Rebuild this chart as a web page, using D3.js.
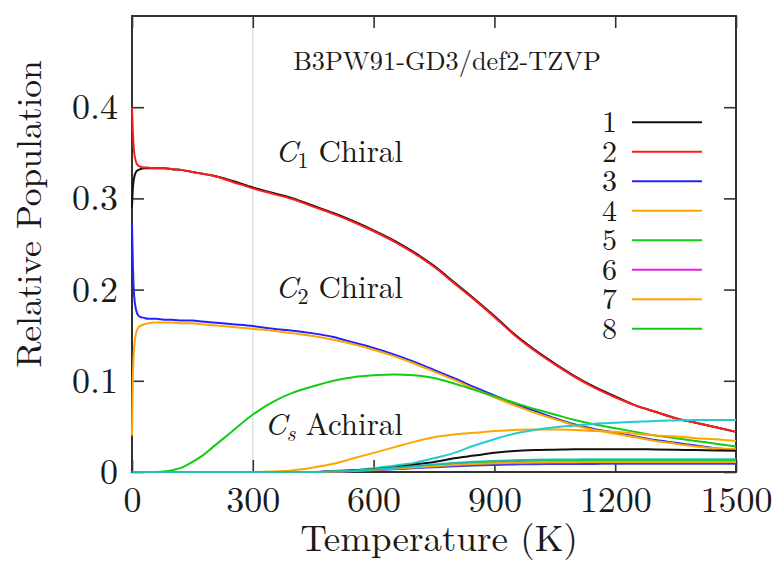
<!DOCTYPE html>
<html><head><meta charset="utf-8">
<script src="https://cdn.jsdelivr.net/npm/d3@7"></script>
<style>
body{margin:0;background:#fff;}
svg{display:block;}
</style>
</head><body>
<svg id="chart" width="775" height="561"></svg>
<script>
// ---------- data ----------
const temps = [0, 2, 5, 10, 15, 20, 30, 40, 50, 60, 80, 100, 125, 150, 175, 200, 250, 300, 350, 400, 450, 500, 550, 600, 650, 700, 750, 800, 850, 900, 950, 1000, 1050, 1100, 1150, 1200, 1250, 1300, 1350, 1400, 1450, 1500];

const pop1 = [0.290, 0.310, 0.322, 0.329, 0.331, 0.332, 0.333, 0.333, 0.333, 0.333, 0.333, 0.332, 0.331, 0.329, 0.327, 0.325, 0.319, 0.312, 0.306, 0.300, 0.292, 0.284, 0.275, 0.265, 0.254, 0.241, 0.226, 0.208, 0.190, 0.171, 0.151, 0.134, 0.119, 0.105, 0.093, 0.083, 0.073, 0.066, 0.059, 0.054, 0.049, 0.044];
const pop2 = [0.400, 0.375, 0.352, 0.340, 0.336, 0.335, 0.334, 0.334, 0.333, 0.333, 0.333, 0.332, 0.331, 0.329, 0.327, 0.325, 0.318, 0.311, 0.305, 0.299, 0.291, 0.283, 0.274, 0.264, 0.253, 0.240, 0.225, 0.207, 0.189, 0.170, 0.150, 0.133, 0.118, 0.104, 0.092, 0.082, 0.073, 0.066, 0.059, 0.054, 0.049, 0.044];
const pop3 = [0.272, 0.230, 0.195, 0.178, 0.172, 0.170, 0.169, 0.168, 0.168, 0.168, 0.167, 0.167, 0.166, 0.166, 0.165, 0.164, 0.162, 0.160, 0.157, 0.155, 0.152, 0.148, 0.142, 0.136, 0.129, 0.121, 0.112, 0.103, 0.093, 0.084, 0.075, 0.067, 0.059, 0.052, 0.047, 0.043, 0.039, 0.035, 0.032, 0.029, 0.026, 0.024];
const pop4 = [0.040, 0.100, 0.135, 0.152, 0.158, 0.160, 0.162, 0.163, 0.164, 0.164, 0.164, 0.164, 0.163, 0.163, 0.162, 0.161, 0.159, 0.157, 0.155, 0.152, 0.149, 0.145, 0.140, 0.134, 0.127, 0.119, 0.110, 0.101, 0.091, 0.082, 0.073, 0.065, 0.058, 0.051, 0.046, 0.042, 0.038, 0.034, 0.031, 0.028, 0.026, 0.025];
const pop5 = [0, 0, 0, 0, 0, 0, 0, 0, 0, 0, 0.0005, 0.002, 0.005, 0.011, 0.018, 0.027, 0.045, 0.063, 0.077, 0.087, 0.094, 0.100, 0.104, 0.106, 0.107, 0.106, 0.103, 0.097, 0.090, 0.083, 0.076, 0.069, 0.063, 0.057, 0.052, 0.048, 0.044, 0.040, 0.037, 0.034, 0.031, 0.028];
const pop6 = [0, 0, 0, 0, 0, 0, 0, 0, 0, 0, 0, 0, 0, 0, 0, 0, 0, 0, 0, 0, 0, 0.0005, 0.0010, 0.0021, 0.0034, 0.0047, 0.0061, 0.0074, 0.0084, 0.0091, 0.0097, 0.0100, 0.0102, 0.0103, 0.0104, 0.0105, 0.0105, 0.0105, 0.0105, 0.0105, 0.0105, 0.0105];
const pop7 = [0, 0, 0, 0, 0, 0, 0, 0, 0, 0, 0, 0, 0, 0, 0, 0, 0, 0, 0.0005, 0.002, 0.005, 0.009, 0.015, 0.021, 0.027, 0.033, 0.038, 0.041, 0.043, 0.045, 0.046, 0.0465, 0.0465, 0.046, 0.045, 0.044, 0.042, 0.040, 0.039, 0.037, 0.036, 0.034];
const pop8 = [0, 0, 0, 0, 0, 0, 0, 0, 0, 0, 0, 0, 0, 0, 0, 0, 0, 0, 0, 0, 0, 0.0006, 0.0013, 0.0026, 0.0042, 0.0059, 0.0075, 0.0091, 0.0104, 0.0113, 0.0120, 0.0124, 0.0126, 0.0128, 0.0129, 0.0130, 0.0130, 0.0130, 0.0130, 0.0130, 0.0130, 0.0130];
const pop9 = [0, 0, 0, 0, 0, 0, 0, 0, 0, 0, 0, 0, 0, 0, 0, 0, 0, 0, 0, 0, 0, 0.001, 0.002, 0.004, 0.007, 0.010, 0.015, 0.021, 0.029, 0.036, 0.042, 0.046, 0.049, 0.051, 0.053, 0.054, 0.055, 0.056, 0.0565, 0.057, 0.057, 0.057];
const pop10 = [0, 0, 0, 0, 0, 0, 0, 0, 0, 0, 0, 0, 0, 0, 0, 0, 0, 0, 0, 0, 0, 0.001, 0.002, 0.003, 0.005, 0.008, 0.011, 0.015, 0.018, 0.021, 0.023, 0.024, 0.0245, 0.025, 0.025, 0.025, 0.025, 0.0248, 0.0245, 0.024, 0.0237, 0.0234];
const pop11 = [0, 0, 0, 0, 0, 0, 0, 0, 0, 0, 0, 0, 0, 0, 0, 0, 0, 0, 0, 0, 0, 0.0004, 0.0009, 0.0018, 0.0029, 0.0041, 0.0052, 0.0063, 0.0072, 0.0078, 0.0083, 0.0086, 0.0087, 0.0088, 0.0089, 0.0090, 0.0090, 0.0090, 0.0090, 0.0090, 0.0090, 0.0090];
const pop12 = [0, 0, 0, 0, 0, 0, 0, 0, 0, 0, 0, 0, 0, 0, 0, 0, 0, 0, 0, 0, 0, 0.0005, 0.0011, 0.0022, 0.0035, 0.0050, 0.0064, 0.0077, 0.0088, 0.0096, 0.0101, 0.0105, 0.0107, 0.0108, 0.0109, 0.0110, 0.0110, 0.0110, 0.0110, 0.0110, 0.0110, 0.0110];
const pop13 = [0, 0, 0, 0, 0, 0, 0, 0, 0, 0, 0, 0, 0, 0, 0, 0, 0, 0, 0, 0, 0, 0.0007, 0.0014, 0.0028, 0.0045, 0.0063, 0.0081, 0.0098, 0.0112, 0.0122, 0.0129, 0.0133, 0.0136, 0.0138, 0.0139, 0.0140, 0.0140, 0.0140, 0.0140, 0.0140, 0.0140, 0.0140];

const seriesValues = [pop1, pop2, pop3, pop4, pop5, pop6, pop7, pop8, pop9, pop10, pop11, pop12, pop13];
const seriesColors = ["#111111", "#ff1c1c", "#2222ff", "#ffa500", "#14cc14", "#e41ee4", "#ffa500", "#14cc14", "#22cccc", "#111111", "#3a3aff", "#ffa500", "#18c0b0"];
const legendLabels = ["1", "2", "3", "4", "5", "6", "7", "8"];
const xTicks = [0, 300, 600, 900, 1200, 1500];
const yTicks = [0, 0.1, 0.2, 0.3, 0.4];
const annotationSubs = ["1", "2", "s"];
const annotationWords = ["Chiral", "Chiral", "Achiral"];
const annotationAnchorT = [673, 673, 673];
const annotationAnchorV = [0.340, 0.191, 0.0405];
const titleText = "B3PW91-GD3/def2-TZVP";
const xTitle = "Temperature (K)";
const yTitle = "Relative Population";

// ---------- layout ----------
const W = 775, H = 561;
const margin = {left: 132, right: 39, top: 16, bottom: 89};
const x = d3.scaleLinear().domain([0, 1500]).range([margin.left, W - margin.right]);
const y = d3.scaleLinear().domain([0, 0.5]).range([H - margin.bottom, margin.top]);

const FONT = "'Latin Modern Roman'";
const TXT = "#1a1a1a";
const svg = d3.select("#chart");
const axisColor = "#333";

// reference line at 300 K
svg.append("line")
  .attr("x1", x(300)).attr("x2", x(300))
  .attr("y1", y(0.5)).attr("y2", y(0))
  .attr("stroke", "#dcdcdc").attr("stroke-width", 1.3);

function styleAxis(g) {
  g.select(".domain").remove();
  g.attr("font-family", FONT).attr("font-size", 36);
  g.selectAll(".tick line").attr("stroke", axisColor).attr("stroke-width", 1.6);
  g.selectAll(".tick text").attr("font-family", FONT).attr("font-size", 36).attr("fill", TXT);
}

svg.append("g").attr("transform", `translate(0,${y(0)})`)
  .call(d3.axisBottom(x).tickValues(xTicks).tickSize(-12).tickPadding(14).tickFormat(d3.format("d")))
  .call(styleAxis);
svg.append("g").attr("transform", `translate(${x(0)},0)`)
  .call(d3.axisLeft(y).tickValues(yTicks).tickSize(-12).tickPadding(14).tickFormat(d => d === 0 ? "0" : d3.format(".1f")(d)))
  .call(styleAxis);
svg.append("g").attr("transform", `translate(0,${y(0.5)})`)
  .call(d3.axisTop(x).tickValues(xTicks).tickSize(-12).tickFormat(""))
  .call(styleAxis);
svg.append("g").attr("transform", `translate(${x(1500)},0)`)
  .call(d3.axisRight(y).tickValues(yTicks).tickSize(-12).tickFormat(""))
  .call(styleAxis);

// frame
svg.append("rect")
  .attr("x", x(0)).attr("y", y(0.5))
  .attr("width", x(1500) - x(0)).attr("height", y(0) - y(0.5))
  .attr("fill", "none").attr("stroke", axisColor).attr("stroke-width", 2);

// clip
svg.append("clipPath").attr("id", "clip").append("rect")
  .attr("x", x(0) - 1).attr("y", y(0.5) - 1)
  .attr("width", x(1500) - x(0) + 2).attr("height", y(0) - y(0.5) + 2);

const line = d3.line()
  .x(d => x(d[0])).y(d => y(d[1]))
  .curve(d3.curveMonotoneX);

const plot = svg.append("g").attr("clip-path", "url(#clip)");
seriesValues.forEach((vals, i) => {
  const pts = temps.map((t, j) => [t, vals[j]]);
  plot.append("path")
    .attr("d", line(pts))
    .attr("fill", "none")
    .attr("stroke", seriesColors[i])
    .attr("stroke-width", 2)
    .attr("stroke-linejoin", "round");
});

// legend
const legY0 = 122.3, legStep = 29.5;
legendLabels.forEach((lab, i) => {
  const ly = legY0 + i * legStep;
  svg.append("text").attr("x", 617).attr("y", ly + 9.8)
    .attr("font-family", FONT).attr("fill", TXT)
    .attr("text-anchor", "end").attr("font-size", 30).text(lab);
  svg.append("line").attr("x1", 632).attr("x2", 702).attr("y1", ly).attr("y2", ly)
    .attr("stroke", seriesColors[i]).attr("stroke-width", 2);
});

// annotations
annotationSubs.forEach((sub, i) => {
  const t = svg.append("text")
    .attr("x", x(annotationAnchorT[i])).attr("y", y(annotationAnchorV[i]))
    .attr("font-family", FONT).attr("fill", TXT)
    .attr("text-anchor", "end").attr("font-size", 31);
  t.append("tspan").attr("font-style", "italic").text("C");
  t.append("tspan").attr("font-size", 22).attr("dy", 6)
    .attr("font-style", sub === "s" ? "italic" : "normal").text(sub);
  t.append("tspan").attr("dy", -6).attr("dx", 10).text(annotationWords[i]);
});

// title
svg.append("text").attr("x", 447).attr("y", 70).attr("text-anchor", "middle")
  .attr("font-family", FONT).attr("fill", TXT)
  .attr("font-size", 26.3)
  .text(titleText);

// axis titles
svg.append("text").attr("x", 439).attr("y", 551).attr("text-anchor", "middle")
  .attr("font-family", FONT).attr("fill", TXT)
  .attr("font-size", 37)
  .text(xTitle);
svg.append("text").attr("transform", "translate(40.5,214) rotate(-90)").attr("text-anchor", "middle")
  .attr("font-family", FONT).attr("fill", TXT)
  .attr("font-size", 35.5)
  .text(yTitle);
</script>
</body></html>
